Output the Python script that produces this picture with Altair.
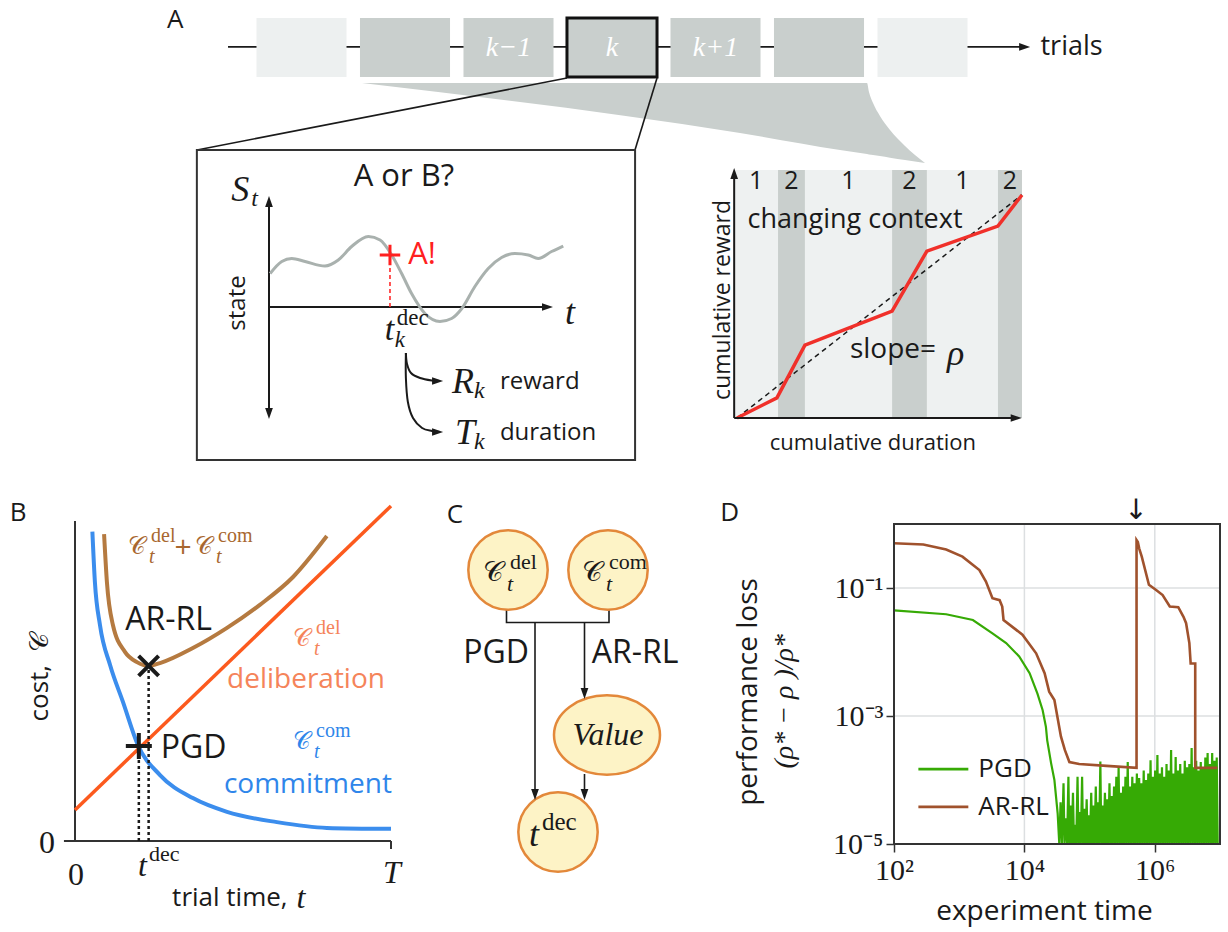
import altair as alt
import numpy as np
import pandas as pd

SANS = "Open Sans"
SERIF = "Liberation Serif"
INK = "#1a1a1a"
CAL = "\U0001D49E"

# ============================ DATA ============================
# ---- Panel A: sequence of trials (x = trial index relative to trial k)
trial_idx = [-3, -2, -1, 0, 1, 2, 3]
trial_kind = ["outer", "inner", "inner", "current", "inner", "inner", "outer"]
trial_name = ["", "", "k−1", "k", "k+1", "", ""]

# grey funnel joining trials k-2..k+2 to the context inset (trial units / row units)
funnel_x = [-2.415, 1.237, 2.203, 2.464, 2.483, 2.522, 2.589, 2.686, 2.831, 3.024]
funnel_lo = [-0.102, -0.949, -1.237, -1.307, -1.312, -1.323, -1.341, -1.367, -1.406, -1.458]
funnel_hi = [-0.102, -0.102, -0.102, -0.102, -0.254, -0.441, -0.661, -0.898, -1.169, -1.458]

# magnifier lines from trial k to the single-trial inset
zoom_from_x = [-0.435, 0.435]
zoom_to_x = [-4.01, 0.222]

# ---- single-trial inset: state S_t over trial time t
state_t = [0.04, 0.45, 0.80, 1.27, 1.97, 2.44, 2.91, 3.50, 3.91, 4.32, 4.67, 5.02,
           5.49, 6.02, 6.43, 6.79, 7.25, 7.72, 8.19, 8.66, 9.13, 9.48, 9.95, 10.36]
state_s = [0.67, 0.91, 0.97, 0.91, 0.82, 0.94, 1.21, 1.41, 1.34, 1.04, 0.67, 0.27,
           -0.13, -0.29, -0.23, -0.03, 0.41, 0.77, 0.99, 1.07, 1.04, 0.97, 1.11, 1.22]
decision_t = 4.26
decision_s = 1.04
reward_arrow_t = [4.82, 4.86, 5.00, 5.32, 5.74, 6.02]
reward_arrow_s = [-0.92, -1.14, -1.32, -1.42, -1.47, -1.48]
duration_arrow_t = [4.82, 4.82, 4.89, 5.07, 5.39, 5.74, 6.02]
duration_arrow_s = [-0.92, -1.42, -1.90, -2.22, -2.42, -2.48, -2.50]

# ---- context inset: cumulative reward vs cumulative duration
ctx_edges = [-0.1, 1.45, 2.40, 5.48, 6.71, 9.22, 10.07]
ctx_id = ["1", "2", "1", "2", "1", "2"]
cum_dur = [0, 1.41, 2.40, 5.48, 6.71, 9.22, 10.07]
cum_rew = [0, 0.81, 2.94, 4.31, 6.73, 7.74, 8.99]
avg_dur = [0, 10.07]
avg_rew = [0, 9.0]

# ---- Panel B: costs over trial time (T = 10)
del_t = [0, 10]
del_c = [0.97, 10.47]
com_t = [0.55, 0.63, 0.79, 1.11, 1.52, 1.99, 2.69, 3.73, 4.81, 6.39, 7.97, 10.0]
com_c = [9.67, 8.09, 6.75, 5.50, 4.34, 3.00, 2.06, 1.34, 0.91, 0.59, 0.41, 0.38]
sum_t = [0.92, 1.01, 1.20, 1.58, 1.96, 2.31, 2.69, 3.73, 4.81, 5.85, 6.90, 7.97]
sum_c = [9.59, 8.09, 6.75, 5.91, 5.59, 5.47, 5.56, 6.03, 6.66, 7.38, 8.25, 9.53]
pgd_opt = [2.02, 2.97]
arrl_opt = [2.33, 5.47]

# ---- Panel C: graph nodes
node_name = ["del", "com", "value", "tdec"]
node_x = [1.0, 3.0, 2.98, 2.0]
node_y = [0.0, 0.0, 3.3, 5.24]

# ---- Panel D: performance loss (log10 values)
arrl_logt = [2.00, 2.45, 2.80, 3.05, 3.31, 3.41, 3.51, 3.62, 3.66, 3.68, 3.97, 4.18, 4.31,
             4.38, 4.46, 4.56, 4.62, 4.69, 4.84, 5.26, 5.72, 5.72, 5.74, 5.76, 5.80, 5.91,
             6.02, 6.12, 6.23, 6.36, 6.44, 6.48, 6.53, 6.55, 6.62, 6.62, 6.96]
arrl_logloss = [-0.30, -0.32, -0.40, -0.51, -0.72, -0.90, -1.16, -1.19, -1.29, -1.50, -1.73,
                -2.02, -2.33, -2.62, -2.75, -3.32, -3.53, -3.72, -3.75, -3.78, -3.81, -0.25,
                -0.28, -0.38, -0.51, -0.95, -1.03, -1.11, -1.29, -1.30, -1.45, -1.55, -1.86,
                -2.18, -2.18, -3.81, -3.81]
pgd_logt = [2.00, 2.80, 3.21, 3.51, 3.72, 3.92, 4.08, 4.20, 4.28, 4.33, 4.35, 4.41, 4.46, 4.51, 4.535]
pgd_logloss = [-1.35, -1.41, -1.50, -1.71, -1.86, -2.07, -2.33, -2.65, -2.91, -3.17, -3.38,
               -3.74, -4.00, -4.52, -5.00]
# noisy tail of PGD (values at the bottom are clipped at 1e-5)
pgd_tail = [
    (4.555, -4.35), (4.575, -5.0), (4.600, -4.05), (4.615, -5.0), (4.635, -4.60), (4.655, -5.0),
    (4.675, -3.95), (4.690, -5.0), (4.710, -4.40), (4.725, -5.0), (4.745, -4.20), (4.760, -5.0),
    (4.780, -4.70), (4.795, -5.0), (4.815, -3.95), (4.830, -5.0), (4.850, -4.50), (4.865, -5.0),
    (4.885, -3.95), (4.900, -5.0), (4.920, -4.45), (4.935, -5.0), (4.955, -4.30), (4.970, -5.0),
    (4.990, -4.55), (5.005, -5.0), (5.025, -4.20), (5.040, -5.0), (5.060, -4.40), (5.075, -5.0),
    (5.095, -4.10), (5.110, -5.0), (5.130, -4.35), (5.145, -5.0), (5.165, -3.71), (5.180, -5.0),
    (5.200, -4.40), (5.215, -5.0), (5.235, -4.20), (5.250, -5.0), (5.270, -4.30), (5.285, -5.0),
    (5.305, -4.05), (5.320, -5.0), (5.340, -4.25), (5.355, -5.0), (5.375, -4.10), (5.390, -5.0),
    (5.410, -3.95), (5.425, -5.0), (5.445, -3.81), (5.460, -5.0), (5.480, -4.20), (5.495, -5.0),
    (5.515, -4.10), (5.530, -5.0), (5.550, -3.95), (5.565, -5.0), (5.585, -3.72), (5.600, -5.0),
    (5.620, -4.10), (5.635, -5.0), (5.655, -3.95), (5.670, -5.0), (5.690, -4.05), (5.705, -5.0),
    (5.725, -3.90), (5.740, -5.0), (5.760, -3.97), (5.775, -5.0), (5.795, -4.05), (5.810, -5.0),
    (5.830, -3.85), (5.845, -5.0), (5.865, -4.00), (5.880, -5.0), (5.900, -3.90), (5.915, -5.0),
    (5.935, -3.69), (5.950, -5.0), (5.970, -3.95), (5.985, -5.0), (6.005, -3.85), (6.020, -5.0),
    (6.040, -3.61), (6.055, -5.0), (6.075, -3.90), (6.090, -5.0), (6.110, -3.80), (6.125, -5.0),
    (6.145, -3.95), (6.160, -5.0), (6.180, -3.75), (6.195, -5.0), (6.215, -3.85), (6.230, -5.0),
    (6.250, -3.53), (6.265, -5.0), (6.285, -3.90), (6.300, -5.0), (6.320, -3.64), (6.335, -5.0),
    (6.355, -3.85), (6.370, -5.0), (6.390, -3.75), (6.405, -5.0), (6.425, -3.90), (6.440, -5.0),
    (6.460, -3.70), (6.475, -5.0), (6.495, -3.80), (6.510, -5.0), (6.530, -3.75), (6.545, -5.0),
    (6.565, -3.50), (6.580, -5.0), (6.600, -3.80), (6.615, -5.0), (6.635, -3.70), (6.650, -5.0),
    (6.670, -3.85), (6.685, -5.0), (6.705, -3.72), (6.720, -5.0), (6.740, -3.80), (6.755, -5.0),
    (6.775, -3.65), (6.790, -5.0), (6.810, -3.58), (6.825, -5.0), (6.845, -3.75), (6.860, -5.0),
    (6.880, -3.58), (6.895, -5.0), (6.915, -3.70), (6.930, -5.0), (6.950, -3.65), (6.965, -5.0),
]

# ============================ SCALES (one per panel) ============================
def lin(domain, rng):
    return alt.Scale(domain=domain, range=rng, nice=False, zero=False)


def logs(domain, rng):
    return alt.Scale(type="log", domain=domain, range=rng, nice=False)


PANEL = {
    "A": (lin([-3.5, 3.5], [249.75, 974.25]), lin([0, 1], [77, 18])),
    "L": (lin([0, 10], [269, 553]), lin([0, 1], [307, 257])),
    "R": (lin([0, 10], [737, 1020]), lin([0, 10], [418, 170])),
    "B": (lin([0, 10], [75, 391]), lin([0, 10], [841, 521])),
    "C": (lin([0, 4], [458, 658]), lin([0, 6], [570, 870])),
    "D": (logs([1e2, 1e7], [894, 1220]), logs([1e-5, 1], [844, 524])),
}


def xy(p, x="x", y="y", x2=None, y2=None):
    sx, sy = PANEL[p]
    enc = {"x": alt.X(x, type="quantitative", scale=sx, axis=None),
           "y": alt.Y(y, type="quantitative", scale=sy, axis=None)}
    if x2:
        enc["x2"] = alt.X2(x2)
    if y2:
        enc["y2"] = alt.Y2(y2)
    return enc


def label(p, x, y, s, size, color=INK, font=SANS, style="normal", align="center",
          baseline="middle", angle=0, dx=0, dy=0):
    return alt.Chart(pd.DataFrame({"x": [x], "y": [y]})).mark_text(
        text=s, fontSize=size, color=color, font=font, fontStyle=style, align=align,
        baseline=baseline, angle=angle, dx=dx, dy=dy).encode(**xy(p))


def math(p, x, y, base, sub=None, sup=None, size=30, ssize=21, color=INK,
         sub_dx=15, sup_dx=17, sub_dy=9, sup_dy=-11, base_style="italic"):
    out = [label(p, x, y, base, size, color, SERIF, base_style, "left")]
    if sup:
        out.append(label(p, x, y, sup, ssize, color, SERIF, "normal", "left",
                         dx=sup_dx, dy=sup_dy))
    if sub:
        out.append(label(p, x, y, sub, ssize, color, SERIF, "italic", "left",
                         dx=sub_dx, dy=sub_dy))
    return out


def line(p, xs, ys, color, width, dash=None, interp="linear"):
    df = pd.DataFrame({"x": list(xs), "y": list(ys), "o": list(range(len(xs)))})
    kw = dict(color=color, strokeWidth=width, interpolate=interp)
    if dash:
        kw["strokeDash"] = dash
    enc = xy(p)
    enc["order"] = alt.Order("o", type="quantitative")
    return alt.Chart(df).mark_line(**kw).encode(**enc)


def seg(p, x1, y1, x2, y2, color=INK, width=1.6, dash=None):
    df = pd.DataFrame({"x": [x1], "y": [y1], "xe": [x2], "ye": [y2]})
    kw = dict(color=color, strokeWidth=width)
    if dash:
        kw["strokeDash"] = dash
    return alt.Chart(df).mark_rule(**kw).encode(**xy(p, x2="xe", y2="ye"))


HEADS = {"right": "M0,0L-2,-0.7L-2,0.7Z", "up": "M0,0L-0.7,2L0.7,2Z",
         "down": "M0,0L-0.7,-2L0.7,-2Z"}


def head(p, x, y, d, color=INK, size=121):
    return alt.Chart(pd.DataFrame({"x": [x], "y": [y]})).mark_point(
        shape=HEADS[d], size=size, filled=True, color=color, opacity=1,
        strokeWidth=0).encode(**xy(p))


PLUS = "M-1,0L1,0M0,-1L0,1"
XMARK = "M-1,-1L1,1M-1,1L1,-1"


def marker(p, x, y, shape, size, color, width):
    return alt.Chart(pd.DataFrame({"x": [x], "y": [y]})).mark_point(
        shape=shape, size=size, filled=False, color=color, strokeWidth=width,
        opacity=1).encode(**xy(p))


def cal(p, x, y, sup, color=INK, size=24, ssize=20, sup_dx=23, sub_dx=21, sup_dy=-11, sub_dy=10):
    return math(p, x, y, CAL, sub="t", sup=sup, size=size, ssize=ssize, color=color,
                sub_dx=sub_dx, sup_dx=sup_dx, sub_dy=sub_dy, sup_dy=sup_dy,
                base_style="normal")


L = []

# ============================ PANEL A: strip ============================
L.append(alt.Chart(pd.DataFrame({"x": funnel_x, "lo": funnel_lo, "hi": funnel_hi}))
         .mark_area(color="#c9cfcd", opacity=1, orient="vertical", interpolate="monotone")
         .encode(**xy("A", "x", "lo", y2="hi")))
L.append(seg("A", -3.71, 0.51, 3.96, 0.51, INK, 1.6))
L.append(head("A", 4.04, 0.51, "right"))
boxes = pd.DataFrame({"i": trial_idx, "kind": trial_kind, "name": trial_name})
boxes["x0"] = boxes["i"] - 0.435
boxes["x1"] = boxes["i"] + 0.435
boxes["y0"] = 0.0
boxes["y1"] = 1.0
boxes["ym"] = 0.5
L.append(alt.Chart(boxes[boxes.kind == "outer"]).mark_rect(color="#edf0f0")
         .encode(**xy("A", "x0", "y0", "x1", "y1")))
L.append(alt.Chart(boxes[boxes.kind != "outer"]).mark_rect(color="#c9cfcd")
         .encode(**xy("A", "x0", "y0", "x1", "y1")))
L.append(alt.Chart(boxes[boxes.kind == "current"]).mark_rect(fillOpacity=0, stroke="#111",
                                                          strokeWidth=3)
         .encode(**xy("A", "x0", "y0", "x1", "y1")))
L.append(alt.Chart(boxes).mark_text(font=SERIF, fontStyle="italic", fontSize=28, color="white")
         .encode(text="name:N", **xy("A", "i", "ym")))
for x0, x1 in zip(zoom_from_x, zoom_to_x):
    L.append(seg("A", x0, -0.017, x1, -1.237, INK, 1.6))
L.append(label("A", -4.22, 0.97, "A", 26))
L.append(label("A", 4.14, 0.51, "trials", 27, align="left"))

# ---------------- single-trial inset
L.append(alt.Chart(pd.DataFrame({"x": [-2.54], "y": [-3.06], "xe": [12.89], "ye": [3.14]}))
         .mark_rect(fillOpacity=0, stroke="#333", strokeWidth=2)
         .encode(**xy("L", "x", "y", "xe", "ye")))
L.append(seg("L", 0, -2.05, 0, 2.05, INK, 2))
L.append(head("L", 0, 2.22, "up"))
L.append(head("L", 0, -2.24, "down"))
L.append(seg("L", 0, 0, 9.8, 0, INK, 2))
L.append(head("L", 10.0, 0, "right"))
L.append(line("L", state_t, state_s, "#a9b1ae", 3, interp="monotone"))
L.append(seg("L", decision_t, 0, decision_t, decision_s - 0.1, "#ff2a2a", 1.6, dash=[4, 3]))
L.append(marker("L", decision_t, decision_s, PLUS, 420, "#ff2020", 3))
L.append(label("L", 4.9, 1.04, "A!", 31, "#ff2020", align="left"))
L.append(label("L", 4.75, 2.6, "A or B?", 31))
L.append(label("L", -1.09, 0.08, "state", 24, angle=270))
L.append(label("L", 10.6, -0.12, "t", 36, font=SERIF, style="italic"))
L += math("L", -1.33, 2.34, "S", sub="t", size=36, ssize=24, sub_dx=20, sub_dy=9)
L += math("L", 4.08, -0.46, "t", sub="k", sup="dec", size=34, ssize=23, sub_dx=10, sub_dy=10,
          sup_dx=12, sup_dy=-12)
L.append(line("L", reward_arrow_t, reward_arrow_s, INK, 2, interp="cardinal"))
L.append(line("L", duration_arrow_t, duration_arrow_s, INK, 2, interp="cardinal"))
L.append(head("L", 6.13, -1.48, "right"))
L.append(head("L", 6.13, -2.50, "right"))
L += math("L", 6.44, -1.5, "R", sub="k", size=36, ssize=24, sub_dx=22, sub_dy=9)
L.append(label("L", 8.13, -1.5, "reward", 24, align="left"))
L += math("L", 6.55, -2.52, "T", sub="k", size=36, ssize=24, sub_dx=19, sub_dy=9)
L.append(label("L", 8.13, -2.52, "duration", 24, align="left"))

# ---------------- context inset
bands = pd.DataFrame({"x0": ctx_edges[:-1], "x1": ctx_edges[1:], "ctx": ctx_id})
bands["y0"] = 0.0
bands["y1"] = 10.0
bands["xm"] = (bands["x0"] + bands["x1"]) / 2
bands["ym"] = 9.55
L.append(alt.Chart(bands[bands.ctx == "1"]).mark_rect(color="#eef1f1")
         .encode(**xy("R", "x0", "y0", "x1", "y1")))
L.append(alt.Chart(bands[bands.ctx == "2"]).mark_rect(color="#c9cfcd")
         .encode(**xy("R", "x0", "y0", "x1", "y1")))
L.append(alt.Chart(bands).mark_text(font=SANS, fontSize=25, color=INK)
         .encode(text="ctx:N", **xy("R", "xm", "ym")))
L.append(label("R", 4.17, 7.98, "changing context", 27))
L.append(line("R", avg_dur, avg_rew, INK, 1.5, dash=[5, 4]))
L.append(line("R", cum_dur, cum_rew, "#f0302a", 3.5))
L.append(seg("R", -0.1, 0, -0.1, 9.65, INK, 2))
L.append(head("R", -0.1, 10.08, "up"))
L.append(seg("R", -0.1, 0, 9.7, 0, INK, 2))
L.append(head("R", 10.06, 0, "right"))
L.append(label("R", 3.99, 2.74, "slope=", 28, align="left"))
L.append(label("R", 7.42, 2.6, "ρ", 36, font=SERIF, style="italic", align="left"))
L.append(label("R", -0.49, 4.76, "cumulative reward", 23, angle=270))
L.append(label("R", 4.8, -1.0, "cumulative duration", 22))

# ============================ PANEL B ============================
L.append(seg("B", 0, 0, 0, 10, "#333", 2))
L.append(seg("B", -0.35, 0, 10, 0, "#333", 2))
L.append(seg("B", 10, 0, 10, -0.25, "#333", 2))
L.append(line("B", del_t, del_c, "#fc5a1e", 3.5))
L.append(line("B", com_t, com_c, "#3b8ded", 4, interp="monotone"))
L.append(line("B", sum_t, sum_c, "#b57a40", 4, interp="monotone"))
L.append(seg("B", pgd_opt[0], 0, pgd_opt[0], pgd_opt[1], INK, 2.5, dash=[3, 3]))
L.append(seg("B", arrl_opt[0], 0, arrl_opt[0], arrl_opt[1], INK, 2.5, dash=[3, 3]))
L.append(marker("B", pgd_opt[0], pgd_opt[1], PLUS, 676, INK, 4))
L.append(marker("B", arrl_opt[0], arrl_opt[1], XMARK, 400, INK, 4))
L.append(label("B", -1.8, 10.25, "B", 26))
L += cal("B", 1.68, 9.2, "del", "#a8672f")
L.append(label("B", 3.42, 9.16, "+", 30, "#a8672f"))
L += cal("B", 3.80, 9.2, "com", "#a8672f")
L.append(label("B", 2.96, 6.9, "AR-RL", 32))
L += cal("B", 6.9, 6.31, "del", "#f5845a")
L.append(label("B", 7.31, 5.03, "deliberation", 28, "#f5845a"))
L.append(label("B", 3.75, 2.9, "PGD", 32))
L += cal("B", 6.9, 3.09, "com", "#2f86ea")
L.append(label("B", 7.37, 1.75, "commitment", 28, "#2f86ea"))
L.append(label("B", -0.89, -0.06, "0", 32, font=SERIF))
L.append(label("B", 0.03, -1.06, "0", 32, font=SERIF))
L.append(label("B", 10.03, -1.0, "T", 32, font=SERIF, style="italic"))
L += math("B", 1.99, -0.78, "t", sup="dec", size=32, ssize=22, sup_dx=11, sup_dy=-12)
L.append(label("B", 4.9, -1.78, "trial time,", 26))
L.append(label("B", 7.15, -1.78, "t", 32, font=SERIF, style="italic"))
L.append(label("B", -1.11, 4.62, "cost,", 26, angle=270))
L.append(label("B", -1.11, 6.19, CAL, 26, font=SERIF, angle=270))

# ============================ PANEL C ============================
L.append(line("C", [0.97, 0.97, 3.02, 3.02], [0.8, 1.05, 1.05, 0.8], INK, 1.6))
L.append(seg("C", 1.54, 1.05, 1.54, 4.45, INK, 1.6))
L.append(seg("C", 2.53, 1.05, 2.53, 2.4, INK, 1.6))
L.append(seg("C", 2.53, 4.08, 2.53, 4.45, INK, 1.6))
nodes = pd.DataFrame({"name": node_name, "x": node_x, "y": node_y})
L.append(alt.Chart(nodes[nodes.name != "value"]).mark_point(
    shape="circle", size=6300, filled=True, fill="#fdf3c6", stroke="#e3883a",
    strokeWidth=2.5, opacity=1).encode(**xy("C")))
L.append(alt.Chart(nodes[nodes.name == "value"]).mark_point(
    shape="M-1,0A1,0.75,0,1,0,1,0A1,0.75,0,1,0,-1,0Z", size=11236, filled=True,
    fill="#fdf3c6", stroke="#e3883a", strokeWidth=2.5, opacity=1).encode(**xy("C")))
L.append(head("C", 1.54, 4.6, "down"))
L.append(head("C", 2.53, 2.58, "down"))
L.append(head("C", 2.53, 4.6, "down"))
L.append(label("C", -0.06, -1.1, "C", 26))
L.append(label("C", 0.76, 1.66, "PGD", 32))
L.append(label("C", 3.54, 1.66, "AR-RL", 32))
L += cal("C", 0.50, 0.06, "del", size=28, ssize=22, sup_dx=27, sub_dx=24, sup_dy=-11, sub_dy=11)
L += cal("C", 2.48, 0.06, "com", size=28, ssize=22, sup_dx=27, sub_dx=24, sup_dy=-11, sub_dy=11)
L.append(label("C", 3.0, 3.3, "Value", 32, font=SERIF, style="italic"))
L += math("C", 1.42, 5.3, "t", sup="dec", size=36, ssize=25, sup_dx=13, sup_dy=-13)

# ============================ PANEL D ============================
for g in [1e4, 1e6]:
    L.append(seg("D", g, 1e-5, g, 1.0, "#dcdfe1", 1.5))
for g in [1e-3, 1e-1]:
    L.append(seg("D", 1e2, g, 1e7, g, "#dcdfe1", 1.5))
pgd_t_all = pgd_logt + [p[0] for p in pgd_tail]
pgd_l_all = pgd_logloss + [p[1] for p in pgd_tail]
L.append(line("D", 10 ** np.array(pgd_t_all), 10 ** np.array(pgd_l_all), "#36aa05", 2.2))
L.append(line("D", 10 ** np.array(arrl_logt), 10 ** np.array(arrl_logloss), "#a0522d", 2.6))
L.append(seg("D", 10 ** 2.374, 10 ** -3.83, 10 ** 3.14, 10 ** -3.83, "#36aa05", 2.6))
L.append(seg("D", 10 ** 2.374, 10 ** -4.42, 10 ** 3.14, 10 ** -4.42, "#a0522d", 2.6))
L.append(label("D", 10 ** 3.294, 10 ** -3.83, "PGD", 26, align="left"))
L.append(label("D", 10 ** 3.294, 10 ** -4.42, "AR-RL", 26, align="left"))

xlab = "datum.value < 1000 ? '10²' : (datum.value < 100000 ? '10⁴' : '10⁶')"
ylab = "datum.value < 0.0001 ? '10⁻⁵' : (datum.value < 0.01 ? '10⁻³' : '10⁻¹')"
frame_df = pd.DataFrame({"x": [1e2], "xe": [1e7], "y": [1e-5], "ye": [1.0]})
L.append(alt.Chart(frame_df).mark_rect(fillOpacity=0, stroke="#333", strokeWidth=2).encode(
    x=alt.X("x", type="quantitative", scale=PANEL["D"][0],
            axis=alt.Axis(orient="bottom", offset=-88, values=[1e2, 1e4, 1e6], labelExpr=xlab,
                          grid=False, domain=False, tickSize=8, tickWidth=1.5,
                          tickColor="#333", labelFont=SERIF, labelFontSize=30,
                          labelColor=INK, labelPadding=3, labelFlush=False, title=None)),
    x2=alt.X2("xe"),
    y=alt.Y("y", type="quantitative", scale=PANEL["D"][1],
            axis=alt.Axis(orient="left", offset=-894, values=[1e-5, 1e-3, 1e-1],
                          labelExpr=ylab, grid=False, domain=False, tickSize=8,
                          tickWidth=1.5, tickColor="#333", labelFont=SERIF,
                          labelFontSize=30, labelColor=INK, labelPadding=3,
                          labelFlush=False, title=None)),
    y2=alt.Y2("ye")))
L.append(label("D", 10 ** -0.52, 10 ** 0.17, "D", 26))
L.append(label("D", 10 ** 5.71, 10 ** 0.2, "↓", 28, font="DejaVu Sans"))
L.append(label("D", 10 ** -0.22, 10 ** -2.625, "performance loss", 28, angle=270))
L.append(label("D", 10 ** 0.33, 10 ** -2.77, "(ρ* − ρ )/ρ*", 28, font=SERIF, style="italic",
               angle=270))
L.append(label("D", 10 ** 4.307, 10 ** -6.06, "experiment time", 28))

chart = (alt.layer(*L)
         .resolve_scale(x="independent", y="independent")
         .properties(width=1228, height=932, autosize=alt.AutoSizeParams(type="none"),
                     padding=0)
         .configure_view(stroke=None))
chart.save("out.html", embed_options={"renderer": "svg", "actions": False})
